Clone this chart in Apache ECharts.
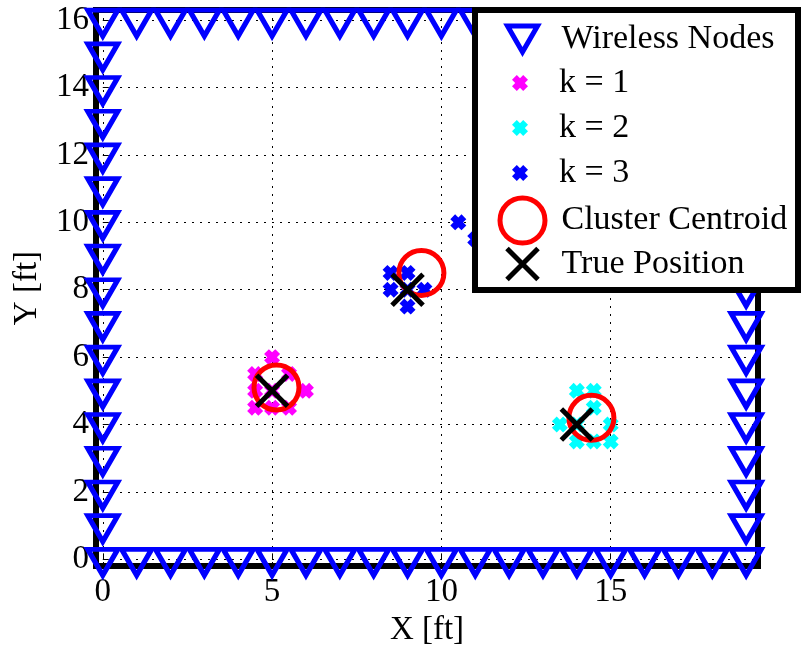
<!DOCTYPE html>
<html>
<head>
<meta charset="utf-8">
<script src="https://cdn.jsdelivr.net/npm/echarts@6/dist/echarts.min.js"></script>
<style>
html,body{margin:0;padding:0;background:#fff;}
#main{width:801px;height:652px;}
</style>
</head>
<body>
<div id="main"></div>
<script>
// ---- data ----
const nodesX = [0,1,2,3,4,5,6,7,8,9,10,11,12,13,14,15,16,17,18,19,
                0,1,2,3,4,5,6,7,8,9,10,11,12,13,14,15,16,17,18,19,
                0,0,0,0,0,0,0,0,0,0,0,0,0,0,0,
                19,19,19,19,19,19,19,19,19,19,19,19,19,19,19];
const nodesY = [0,0,0,0,0,0,0,0,0,0,0,0,0,0,0,0,0,0,0,0,
                16,16,16,16,16,16,16,16,16,16,16,16,16,16,16,16,16,16,16,16,
                1,2,3,4,5,6,7,8,9,10,11,12,13,14,15,
                1,2,3,4,5,6,7,8,9,10,11,12,13,14,15];
const k1X = [5, 4.5, 5.5, 4.5, 5, 6, 4.5, 5, 5.5];
const k1Y = [6, 5.5, 5.5, 5, 5, 5, 4.5, 4.5, 4.5];
const k2X = [14, 14.5, 13.5, 14, 14.5, 15, 14, 14.5, 15];
const k2Y = [5, 5, 4, 4, 4.5, 4, 3.5, 3.5, 3.5];
const k3X = [8.5, 9, 8.5, 9, 9.5, 9, 10.5, 11];
const k3Y = [8.5, 8.5, 8, 8, 8, 7.5, 10, 9.5];
const centroidX = [5.13, 14.43, 9.41];
const centroidY = [5.1, 4.2, 8.5];
const trueX = [5, 14, 9];
const trueY = [5, 4, 8];
const xTicks = [0, 5, 10, 15];
const yTicks = [0, 2, 4, 6, 8, 10, 12, 14, 16];
const seriesNames = ['Wireless Nodes', 'k = 1', 'k = 2', 'k = 3', 'Cluster Centroid', 'True Position'];

const pairs = (xs, ys) => xs.map((x, i) => [x, ys[i]]);

const FONT = '"Liberation Serif", "Times New Roman", serif';
const triPath = 'path://M0,0 L10,0 L5,8.66 Z';
const crossPath = 'path://M0,3 L3,0 L5,2 L7,0 L10,3 L8,5 L10,7 L7,10 L5,8 L3,10 L0,7 L2,5 Z';
const xPath = 'path://M0,0 L10,10 M10,0 L0,10';

const chart = echarts.init(document.getElementById('main'));

const legendRows = [
  {name: seriesNames[0], w: 30, h: 26, cy: 39, bw: 5},
  {name: seriesNames[1], w: 16, h: 16, cy: 83, bw: 0},
  {name: seriesNames[2], w: 16, h: 16, cy: 128, bw: 0},
  {name: seriesNames[3], w: 16, h: 16, cy: 173, bw: 0},
  {name: seriesNames[4], w: 45, h: 45, cy: 218, bw: 5},
  {name: seriesNames[5], w: 31, h: 31, cy: 263, bw: 5}
];
const iconCX = 520, textX = 559, legendFont = 34;
const legends = legendRows.map(r => {
  const boxH = Math.max(r.h, legendFont);
  const lg = {
    data: [r.name],
    selectedMode: false,
    orient: 'vertical',
    left: iconCX - r.w / 2,
    top: r.cy - boxH / 2,
    padding: 0,
    itemWidth: r.w,
    itemHeight: r.h,
    z: 20,
    textStyle: {
      fontFamily: FONT, fontSize: legendFont, color: '#000',
      padding: [0, 0, 0, textX - (iconCX + r.w / 2 + 5)]
    }
  };
  if (r.bw) lg.itemStyle = {borderWidth: r.bw};
  return lg;
});

const option = {
  animation: false,
  backgroundColor: '#fff',
  grid: {
    left: 96, right: 43, top: 10, bottom: 82,
    show: true, borderColor: '#000', borderWidth: 6, backgroundColor: 'transparent'
  },
  xAxis: {
    type: 'value', min: -0.2, max: 19.35,
    name: 'X [ft]', nameLocation: 'middle', nameGap: 46,
    nameTextStyle: {fontFamily: FONT, fontSize: 33, color: '#000'},
    axisLine: {show: false},
    axisTick: {show: true, inside: true, length: 6, customValues: xTicks, lineStyle: {color: '#000'}},
    axisLabel: {customValues: xTicks, fontFamily: FONT, fontSize: 33, color: '#000', margin: 10},
    splitLine: {show: true, lineStyle: {color: '#000', width: 1, type: [2, 6]}}
  },
  yAxis: {
    type: 'value', min: -0.2, max: 16.3,
    name: 'Y [ft]', nameLocation: 'middle', nameGap: 52, nameRotate: 90,
    nameTextStyle: {fontFamily: FONT, fontSize: 33, color: '#000'},
    axisLine: {show: false},
    axisTick: {show: true, inside: true, length: 6, customValues: yTicks, lineStyle: {color: '#000'}},
    axisLabel: {customValues: yTicks, fontFamily: FONT, fontSize: 33, color: '#000', margin: 7},
    splitLine: {show: true, lineStyle: {color: '#000', width: 1, type: [2, 6]}}
  },
  legend: legends,
  graphic: [{
    type: 'rect', z: 15, silent: true,
    shape: {x: 475, y: 10, width: 323, height: 280},
    style: {fill: '#fff', stroke: '#000', lineWidth: 6}
  }],
  series: [
    {
      name: seriesNames[0], type: 'scatter', data: pairs(nodesX, nodesY),
      symbol: triPath, symbolSize: [30, 26], symbolOffset: [0, 3],
      itemStyle: {color: 'none', borderColor: '#0000ff', borderWidth: 5, opacity: 1},
      z: 2
    },
    {
      name: seriesNames[1], type: 'scatter', data: pairs(k1X, k1Y),
      symbol: crossPath, symbolSize: 16, itemStyle: {color: '#ff00ff', opacity: 1}, z: 3
    },
    {
      name: seriesNames[2], type: 'scatter', data: pairs(k2X, k2Y),
      symbol: crossPath, symbolSize: 16, itemStyle: {color: '#00ffff', opacity: 1}, z: 3
    },
    {
      name: seriesNames[3], type: 'scatter', data: pairs(k3X, k3Y),
      symbol: crossPath, symbolSize: 16, itemStyle: {color: '#0000ff', opacity: 1}, z: 3
    },
    {
      name: seriesNames[4], type: 'scatter', data: pairs(centroidX, centroidY),
      symbol: 'circle', symbolSize: 45,
      itemStyle: {color: 'none', borderColor: '#ff0000', borderWidth: 5, opacity: 1}, z: 4
    },
    {
      name: seriesNames[5], type: 'scatter', data: pairs(trueX, trueY),
      symbol: xPath, symbolSize: 31,
      itemStyle: {color: 'none', borderColor: '#000000', borderWidth: 5, opacity: 1}, z: 5
    }
  ]
};
chart.setOption(option);
</script>
</body>
</html>
